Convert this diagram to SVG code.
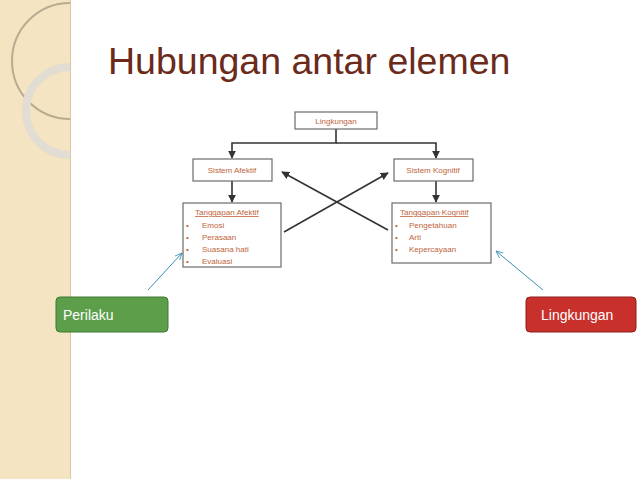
<svg xmlns="http://www.w3.org/2000/svg" width="638" height="479" viewBox="0 0 638 479">
<style>
.bx{fill:#fff;stroke:#6b6b6b;stroke-width:1.2}
.t{font-family:"Liberation Sans",Arial,sans-serif;font-size:8px;fill:#c0643a}
.c{stroke:#333;stroke-width:1.6;fill:none}
.btn{font-family:"Liberation Sans",Arial,sans-serif;font-size:14px;fill:#fff}
</style>
<defs>
<marker id="a" viewBox="0 0 10 10" refX="9" refY="5" markerWidth="5" markerHeight="5" orient="auto"><path d="M0,0L10,5L0,10z" fill="#333"/></marker>
<marker id="b" viewBox="0 0 10 10" refX="9" refY="5" markerWidth="8" markerHeight="8" orient="auto"><path d="M0,1L9,5L0,9" fill="none" stroke="#3a8fb0"/></marker>
<clipPath id="strip"><rect width="70" height="479"/></clipPath>
</defs>
<rect width="638" height="479" fill="#fff"/>
<rect width="70" height="479" fill="#f4e4c1"/>
<g clip-path="url(#strip)">
<circle cx="70" cy="61" r="58" fill="none" stroke="#b8ab90" stroke-width="2"/>
<circle cx="70" cy="111" r="44" fill="none" stroke="#e2ddd3" stroke-width="8"/>
</g>
<line x1="70.5" y1="0" x2="70.5" y2="479" stroke="#d9c9a3"/>
<text x="108" y="74" font-family="Liberation Sans,Arial,sans-serif" font-size="37.5" fill="#6b2a1a">Hubungan antar elemen</text>
<g id="connectors">
<path class="c" d="M336,129V143H232V158" marker-end="url(#a)"/>
<path class="c" d="M336,143H436V158" marker-end="url(#a)"/>
<path class="c" d="M232,181V202" marker-end="url(#a)"/>
<path class="c" d="M436,181V202" marker-end="url(#a)"/>
<path class="c" d="M284,232L388,173" marker-end="url(#a)"/>
<path class="c" d="M388,230L282,172" marker-end="url(#a)"/>
<path d="M148,290L182,253" stroke="#3a8fb0" fill="none" marker-end="url(#b)"/>
<path d="M543,290L496,251" stroke="#3a8fb0" fill="none" marker-end="url(#b)"/>
</g>
<g id="lingkungan"><rect class="bx" x="295" y="112" width="82" height="17"/><text class="t" x="336" y="123.5" text-anchor="middle">Lingkungan</text></g>
<g id="sistem-afektif"><rect class="bx" x="193" y="159" width="79" height="22"/><text class="t" x="232" y="173" text-anchor="middle">Sistem Afektif</text></g>
<g id="sistem-kognitif"><rect class="bx" x="394" y="159" width="79" height="22"/><text class="t" x="433" y="173" text-anchor="middle">Sistem Kognitif</text></g>
<g id="tanggapan-afektif"><rect class="bx" x="183" y="203" width="98" height="64"/>
<text class="t" x="195" y="215" text-decoration="underline">Tanggapan Afektif</text>
<text class="t" x="186" y="228">•<tspan x="202">Emosi</tspan></text>
<text class="t" x="186" y="240">•<tspan x="202">Perasaan</tspan></text>
<text class="t" x="186" y="252">•<tspan x="202">Suasana hati</tspan></text>
<text class="t" x="186" y="264">•<tspan x="202">Evaluasi</tspan></text></g>
<g id="tanggapan-kognitif"><rect class="bx" x="392" y="203" width="99" height="60"/>
<text class="t" x="400" y="215" text-decoration="underline">Tanggapan Kognitif</text>
<text class="t" x="395" y="228">•<tspan x="409">Pengetahuan</tspan></text>
<text class="t" x="395" y="240">•<tspan x="409">Arti</tspan></text>
<text class="t" x="395" y="252">•<tspan x="409">Kepercayaan</tspan></text></g>
<g id="perilaku"><rect x="56" y="297" width="112" height="35" rx="4" fill="#5c9e4a" stroke="#3f7a33"/><text class="btn" x="63" y="320">Perilaku</text></g>
<g id="lingkungan-btn"><rect x="526" y="297" width="110" height="35" rx="4" fill="#c8302c" stroke="#8f1f1c"/><text class="btn" x="541" y="320">Lingkungan</text></g>
</svg>
